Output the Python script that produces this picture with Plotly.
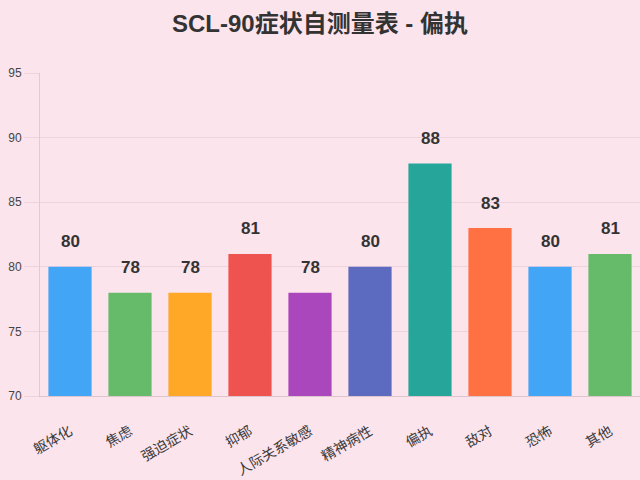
import plotly.graph_objects as go

categories = ["躯体化", "焦虑", "强迫症状", "抑郁", "人际关系敏感", "精神病性", "偏执", "敌对", "恐怖", "其他"]
scores = [80, 78, 78, 81, 78, 80, 88, 83, 80, 81]
colors = ["#42a5f5", "#66bb6a", "#ffa726", "#ef5350", "#ab47bc",
          "#5c6bc0", "#26a69a", "#ff7043", "#42a5f5", "#66bb6a"]
y_ticks = [70, 75, 80, 85, 90, 95]

font = "Liberation Sans, Noto Sans CJK SC, sans-serif"
grid = "#efd3dc"

fig = go.Figure()
fig.add_trace(go.Bar(x=categories, y=scores, marker_color=colors,
                     marker_line_width=0, hoverinfo="x+y"))

# value labels a bit above each bar
for c, v in zip(categories, scores):
    fig.add_annotation(x=c, y=v, text=f"<b>{v}</b>", showarrow=False,
                       yshift=25, font=dict(size=17, color="#333333", family=font))

fig.update_layout(
    width=640, height=480,
    paper_bgcolor="#fce4ec", plot_bgcolor="#fce4ec",
    margin=dict(l=40, r=0, t=73, b=84),
    title=dict(text="<b>SCL-90症状自测量表 - 偏执</b>", x=0.5, xanchor="center",
               y=0.95, yanchor="middle",
               font=dict(size=24, color="#333333", family=font)),
    bargap=0.28,
    showlegend=False,
    font=dict(family=font),
)
fig.update_xaxes(tickangle=-30, tickfont=dict(size=14, color="#3a3a3a"),
                 showline=True, linecolor="#dcc3cc", linewidth=1,
                 showgrid=False, ticks="", ticklabelstandoff=21)
fig.update_yaxes(range=[70, 95], tickvals=y_ticks, showgrid=True, gridcolor=grid,
                 showline=True, linecolor="#e3c9d2", linewidth=1,
                 ticks="outside", ticklen=15, tickcolor=grid,
                 tickfont=dict(size=12, color="#444444"), zeroline=False)

# drop the page's default 8px margin so the chart fills the window
fig.write_html("out.html", config={"displayModeBar": False},
               post_script="document.body.style.margin='0';")
